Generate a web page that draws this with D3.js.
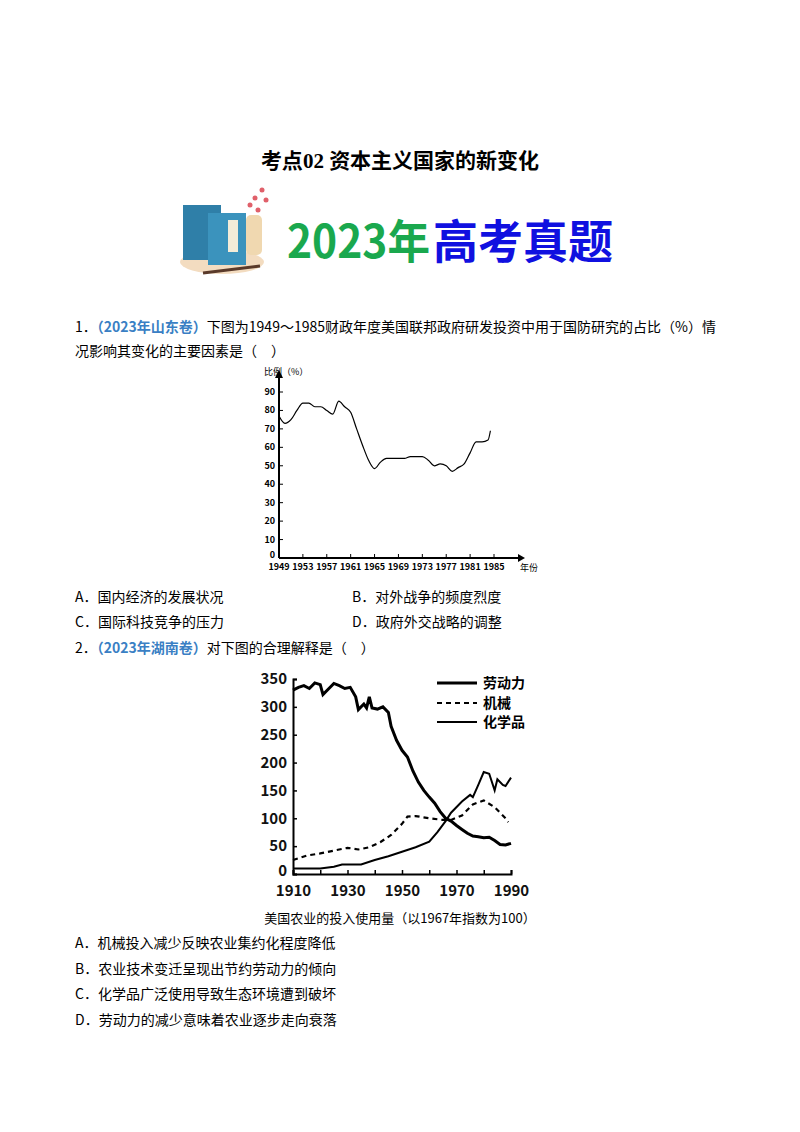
<!DOCTYPE html>
<html><head><meta charset="utf-8">
<script src="https://cdn.jsdelivr.net/npm/d3@7"></script>
<style>body{margin:0;background:#fff}svg text{font-family:"Noto Sans CJK SC",sans-serif}</style>
</head><body>
<svg width="800" height="1132"></svg>
<script>
// chart 1: share of defense research (%)
var years1 = [1949,1950,1951,1952,1953,1954,1955,1956,1957,1958,1959,1960,1961,1962,1963,1964,1965,1966,1967,1968,1969,1970,1971,1972,1973,1974,1975,1976,1977,1978,1979,1980,1981,1982,1983,1984,1984.4];
var share1 = [77,73,75,80,84,84,82,82,80,78,85,82,79,70,61,53,48.5,52,54,54,54,54,55,55,55,53,50,51,50,47,49,51,57,63,63,64,69];
var xTicks1 = [1949,1953,1957,1961,1965,1969,1973,1977,1981,1985];
var yTicks1 = [0,10,20,30,40,50,60,70,80,90];

// chart 2: US agriculture inputs (1967 = 100)
var laborYears = [1910,1912,1914,1916,1918,1920,1921,1923,1925,1927,1929,1931,1933,1934,1936,1937,1938,1939,1941,1943,1945,1946,1948,1950,1952,1954,1956,1958,1960,1962,1964,1966,1968,1970,1972,1974,1976,1978,1980,1982,1984,1986,1988,1990];
var labor = [330,335,338,333,343,340,322,332,342,338,333,335,318,295,305,298,318,298,296,300,290,265,240,222,210,185,165,150,138,127,112,100,95,87,80,73,68,67,65,66,60,53,52,55];
var machYears = [1910,1915,1920,1925,1930,1934,1938,1942,1946,1950,1952,1955,1960,1965,1968,1972,1976,1980,1984,1988,1989];
var mach = [25,33,37,42,47,44,48,57,70,90,103,104,100,97,97,105,125,132,120,100,93];
var chemYears = [1910,1920,1925,1928,1935,1940,1945,1950,1955,1960,1963,1966,1968,1972,1975,1976,1978,1980,1982,1984,1985,1987,1988,1990];
var chem = [10,10,13,17,17,25,32,40,48,58,75,95,110,130,142,138,160,183,180,150,170,160,158,173];
var xTicks2 = [1910,1930,1950,1970,1990];
var yTicks2 = [0,50,100,150,200,250,300,350];
var legendNames = ["劳动力","机械","化学品"];

var svg = d3.select("svg");
function txt(x, y, s, o) {
  o = o || {};
  return svg.append("text").attr("x", x).attr("y", y).text(s)
    .attr("font-size", o.size || 14).attr("fill", o.fill || "#000")
    .attr("font-weight", o.bold ? "bold" : "normal")
    .attr("text-anchor", o.anchor || "start");
}

// header
var t = txt(400, 168, "", {size: 21, bold: true, anchor: "middle"});
t.append("tspan").text("考点");
t.append("tspan").attr("font-family", "Liberation Serif").text("02 ");
t.append("tspan").text(" 资本主义国家的新变化");
var icon = svg.append("g");
icon.append("ellipse").attr("cx", 222).attr("cy", 262).attr("rx", 42).attr("ry", 12).attr("fill", "#f3dcc0");
icon.append("rect").attr("x", 183).attr("y", 205).attr("width", 38).attr("height", 55).attr("fill", "#2f7fa8");
icon.append("rect").attr("x", 208).attr("y", 213).attr("width", 38).attr("height", 52).attr("fill", "#3b93bd");
icon.append("rect").attr("x", 228).attr("y", 220).attr("width", 10).attr("height", 32).attr("fill", "#f4ecd8");
icon.append("rect").attr("x", 246).attr("y", 215).attr("width", 16).attr("height", 40).attr("rx", 5).attr("fill", "#f0d8b0");
icon.append("line").attr("x1", 203).attr("y1", 273).attr("x2", 260).attr("y2", 266).attr("stroke", "#5a3a2a").attr("stroke-width", 3);
[[255,198],[262,190],[250,205],[266,200],[258,210]].forEach(function (p) {
  icon.append("circle").attr("cx", p[0]).attr("cy", p[1]).attr("r", 2.5).attr("fill", "#e0606a");
});
txt(287, 258, "2023年", {size: 46, bold: true, fill: "#1aa84e"})
  .attr("textLength", 143).attr("lengthAdjust", "spacingAndGlyphs");
txt(433, 258, "高考真题", {size: 46, bold: true, fill: "#1010e0"})
  .attr("textLength", 180).attr("lengthAdjust", "spacingAndGlyphs");

// question 1
var q1 = svg.append("text").attr("x", 75).attr("y", 332).attr("font-size", 14);
q1.append("tspan").text("1．");
q1.append("tspan").attr("fill", "#3a7fc4").attr("font-weight", "bold").text("（2023年山东卷）");
q1.append("tspan").text("下图为1949～1985财政年度美国联邦政府研发投资中用于国防研究的占比（%）情");
txt(75, 356, "况影响其变化的主要因素是（　）");

var x1 = d3.scaleLinear().domain([1949, 1985]).range([279, 494]);
var y1 = d3.scaleLinear().domain([0, 90]).range([558, 392]);
var g1 = svg.append("g").attr("font-size", 9).attr("font-weight", "bold");
g1.append("line").attr("x1", 279).attr("y1", 558).attr("x2", 518).attr("y2", 558).attr("stroke", "#000").attr("stroke-width", 2);
g1.append("line").attr("x1", 279).attr("y1", 558).attr("x2", 279).attr("y2", 377).attr("stroke", "#000").attr("stroke-width", 2);
g1.append("path").attr("d", "M518,554L525,558L518,562Z");
g1.append("path").attr("d", "M275,378L279,370L283,378Z");
yTicks1.forEach(function (v) {
  g1.append("line").attr("x1", 279).attr("x2", 283).attr("y1", y1(v)).attr("y2", y1(v)).attr("stroke", "#000");
  g1.append("text").attr("x", 275).attr("y", y1(v) + (v ? 3 : 0)).attr("text-anchor", "end").attr("font-family", "Liberation Serif").text(v);
});
xTicks1.forEach(function (v) {
  g1.append("line").attr("x1", x1(v)).attr("x2", x1(v)).attr("y1", 558).attr("y2", 554).attr("stroke", "#000");
  g1.append("text").attr("x", x1(v)).attr("y", 570).attr("text-anchor", "middle").attr("font-family", "Liberation Serif").text(v);
});
g1.append("text").attr("x", 520).attr("y", 571).attr("font-weight", "normal").text("年份");
g1.append("text").attr("x", 264).attr("y", 375).attr("font-weight", "normal").text("比例（%）");
g1.append("path").datum(d3.range(years1.length))
  .attr("d", d3.line().x(function (i) { return x1(years1[i]); }).y(function (i) { return y1(share1[i]); }).curve(d3.curveMonotoneX))
  .attr("fill", "none").attr("stroke", "#000").attr("stroke-width", 1.2);

txt(75, 602, "A．国内经济的发展状况");
txt(352, 602, "B．对外战争的频度烈度");
txt(75, 627, "C．国际科技竞争的压力");
txt(352, 627, "D．政府外交战略的调整");

// question 2
var q2 = svg.append("text").attr("x", 75).attr("y", 653).attr("font-size", 14);
q2.append("tspan").text("2．");
q2.append("tspan").attr("fill", "#3a7fc4").attr("font-weight", "bold").text("（2023年湖南卷）");
q2.append("tspan").text("对下图的合理解释是（　）");

var x2 = d3.scaleLinear().domain([1910, 1990]).range([293, 511]);
var y2 = d3.scaleLinear().domain([0, 350]).range([874, 679]);
var g2 = svg.append("g");
var xa = g2.append("g").attr("transform", "translate(0,874)")
  .call(d3.axisBottom(x2).tickValues(d3.range(1910, 1991, 10)).tickSize(-4).tickFormat(function (d) { return xTicks2.indexOf(d) >= 0 ? d : ""; }));
var ya = g2.append("g").attr("transform", "translate(293,0)")
  .call(d3.axisLeft(y2).tickValues(yTicks2).tickSize(-4));
g2.selectAll(".domain").attr("stroke-width", 2);
g2.selectAll(".tick line").attr("stroke-width", 1.5);
g2.selectAll(".tick text").attr("font-size", 15).attr("font-family", "Liberation Serif").attr("font-weight", "bold").attr("fill", "#111");
xa.selectAll(".tick text").attr("y", 8).attr("dy", "0.9em");
ya.selectAll(".tick text").attr("x", -6);
ya.selectAll(".tick text").filter(function (d) { return d === 0; }).attr("dy", "0.1em");

function series(xs, ys, w, dash) {
  g2.append("path").datum(d3.range(xs.length))
    .attr("d", d3.line().x(function (i) { return x2(xs[i]); }).y(function (i) { return y2(ys[i]); }))
    .attr("fill", "none").attr("stroke", "#000").attr("stroke-width", w).attr("stroke-dasharray", dash || null);
}
series(laborYears, labor, 3);
series(machYears, mach, 2.2, "5,4");
series(chemYears, chem, 2);

var legY = [683, 703, 722], legW = [3, 2.2, 2], legD = [null, "5,4", null];
legendNames.forEach(function (n, i) {
  g2.append("line").attr("x1", 437).attr("x2", 477).attr("y1", legY[i]).attr("y2", legY[i])
    .attr("stroke", "#000").attr("stroke-width", legW[i]).attr("stroke-dasharray", legD[i]);
  g2.append("text").attr("x", 483).attr("y", legY[i] + 5).attr("font-size", 14).attr("font-weight", "bold").text(n);
});

txt(400, 923, "美国农业的投入使用量（以1967年指数为100）", {anchor: "middle", size: 13});
txt(75, 948, "A．机械投入减少反映农业集约化程度降低");
txt(75, 974, "B．农业技术变迁呈现出节约劳动力的倾向");
txt(75, 999, "C．化学品广泛使用导致生态环境遭到破坏");
txt(75, 1025, "D．劳动力的减少意味着农业逐步走向衰落");
</script>
</body></html>
